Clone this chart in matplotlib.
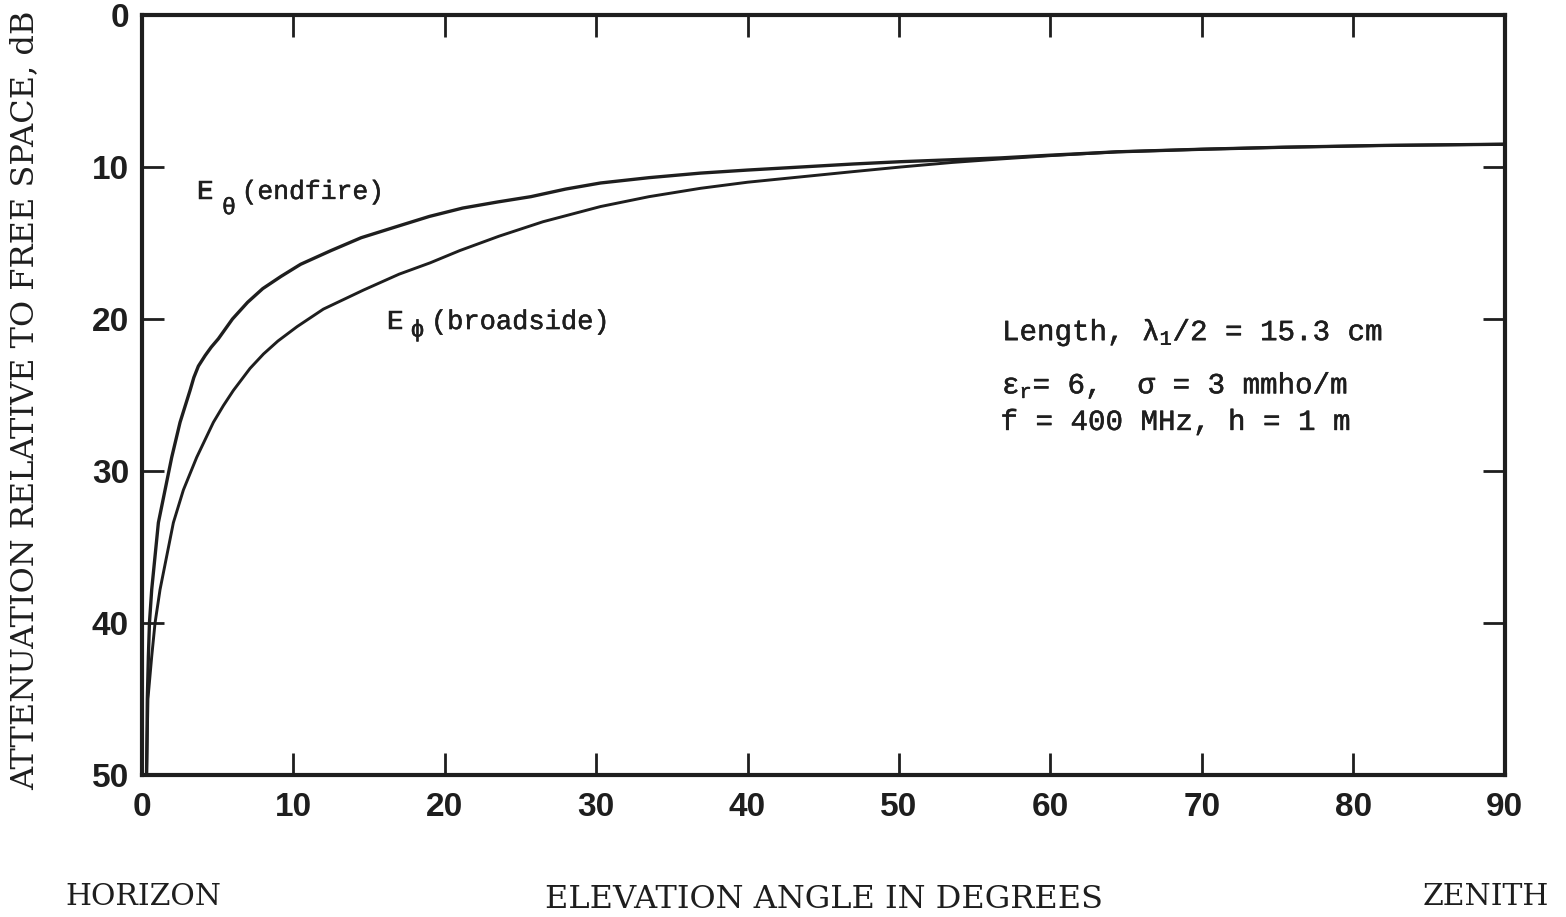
import matplotlib
matplotlib.use("Agg")
import matplotlib.pyplot as plt
import matplotlib.patheffects as pe
from matplotlib.ticker import FixedLocator
from matplotlib.font_manager import FontProperties

# Elevation angle (degrees) and attenuation relative to free space (dB)
endfire_angle = [0.33, 0.38, 0.45, 0.52, 0.67, 0.89, 1.11, 1.55, 1.99, 2.54,
                 3.2, 3.45, 3.75, 4.2, 4.6, 5.07, 6.0, 7.0, 8.0, 9.2, 10.5,
                 12.5, 14.5, 16.9, 19.0, 21.2, 23.5, 25.7, 28.0, 30.3, 33.5,
                 36.9, 40.0, 43.5, 47.0, 50.1, 53.5, 56.7, 60.0, 64.4, 70.0,
                 75.3, 82.0, 90]
endfire_db = [50, 45, 42.2, 40, 37.8, 35.6, 33.4, 31.25, 29.1, 26.8,
              24.7, 23.85, 23.1, 22.4, 21.85, 21.3, 20.0, 18.9, 18.0, 17.2, 16.4,
              15.5, 14.65, 13.9, 13.25, 12.7, 12.3, 11.95, 11.45, 11.05, 10.7,
              10.4, 10.2, 10.0, 9.8, 9.65, 9.52, 9.4, 9.22, 9.0, 8.83,
              8.7, 8.58, 8.5]

broadside_angle = [0.33, 0.42, 0.67, 0.89, 1.22, 1.66, 2.1, 2.76, 3.64, 4.74,
                   5.4, 6.06, 7.16, 8.05, 9.0, 10.27, 12.0, 14.64, 17.0, 19.06,
                   21.0, 23.6, 26.5, 30.3, 33.5, 36.9, 40.0, 43.5, 47.0, 50.1,
                   53.5, 56.7, 60.0, 64.4, 70.0, 75.3, 82.0, 90]
broadside_db = [50, 45, 42.2, 40, 37.8, 35.6, 33.4, 31.25, 29.1, 26.8,
                25.7, 24.7, 23.25, 22.3, 21.45, 20.5, 19.35, 18.1, 17.05, 16.3,
                15.5, 14.55, 13.6, 12.6, 11.95, 11.4, 11.0, 10.65, 10.3, 10.0,
                9.7, 9.47, 9.25, 9.0, 8.83, 8.7, 8.58, 8.5]

x_ticks = [0, 10, 20, 30, 40, 50, 60, 70, 80, 90]
y_ticks = [0, 10, 20, 30, 40, 50]

INK = "#1e1e1e"
TYPE_FONT = ["Liberation Mono", "DejaVu Sans Mono"]
LABEL_FONT = ["DejaVu Serif", "Liberation Serif"]
# slightly heavier strokes for the typed annotations
TYPED = [pe.withStroke(linewidth=0.35, foreground=INK)]

plt.rcParams["mathtext.fontset"] = "custom"
plt.rcParams["mathtext.rm"] = "Liberation Mono"
plt.rcParams["mathtext.it"] = "Liberation Mono"
plt.rcParams["mathtext.bf"] = "Liberation Mono:bold"

fig = plt.figure(figsize=(15.66, 9.17), dpi=100)
ax = fig.add_axes([0.0904, 0.1549, 0.8706, 0.8287])

ax.plot(endfire_angle, endfire_db, color=INK, lw=2.4,
        solid_joinstyle="round", solid_capstyle="round")
ax.plot(broadside_angle, broadside_db, color=INK, lw=2.1,
        solid_joinstyle="round", solid_capstyle="round")

ax.set_xlim(0, 90)
ax.set_ylim(50, 0)
ax.xaxis.set_major_locator(FixedLocator(x_ticks))
ax.yaxis.set_major_locator(FixedLocator(y_ticks))
ax.set_xticklabels([str(v) for v in x_ticks])
ax.set_yticklabels([str(v) for v in y_ticks])

for side in ax.spines.values():
    side.set_linewidth(3.0)
    side.set_color(INK)

ax.tick_params(axis="both", which="major", direction="in", length=16,
               width=2.0, color=INK, top=True, right=True)
ax.tick_params(axis="x", pad=12)
ax.tick_params(axis="y", pad=9)
tick_fp = FontProperties(family=["Liberation Sans", "DejaVu Sans"],
                         weight="bold", size=24)
for lab in ax.get_xticklabels() + ax.get_yticklabels():
    lab.set_fontproperties(tick_fp)
    lab.set_color(INK)


def typed(x, y, s, size):
    ax.text(x, y, s, family=TYPE_FONT, fontsize=size, color=INK,
            ha="left", va="baseline", path_effects=TYPED)


# Curve labels: letter, dropped subscript, then the description
typed(3.66, 12.1, "E", 20)
typed(5.3, 13.1, "\u03b8", 17)
typed(6.6, 12.1, "(endfire)", 19)

typed(16.2, 20.66, "E", 20)
typed(17.75, 21.15, "\u03d5", 17)
typed(19.1, 20.66, "(broadside)", 19.5)

# Parameters block
typed(56.8, 21.4, r"Length, $\lambda_{1}$/2 = 15.3 cm", 21)
typed(56.8, 24.9, r"$\epsilon_{r}$= 6,  $\sigma$ = 3 mmho/m", 21)
typed(56.7, 27.3, "f = 400 MHz, h = 1 m", 21)

# Axis titles
fig.text(25 / 1566, 1 - 400 / 917, "ATTENUATION RELATIVE TO FREE SPACE, dB",
         rotation=90, ha="center", va="center", family=LABEL_FONT,
         fontsize=23, color=INK)
fig.text(824 / 1566, 1 - 900 / 917, "ELEVATION ANGLE IN DEGREES",
         ha="center", va="center", family=LABEL_FONT, fontsize=23, color=INK)
fig.text(143 / 1566, 1 - 897 / 917, "HORIZON",
         ha="center", va="center", family=LABEL_FONT, fontsize=21.5, color=INK)
fig.text(1486 / 1566, 1 - 897 / 917, "ZENITH",
         ha="center", va="center", family=LABEL_FONT, fontsize=21.5, color=INK)

fig.savefig("out.png", dpi=100, facecolor="white")
